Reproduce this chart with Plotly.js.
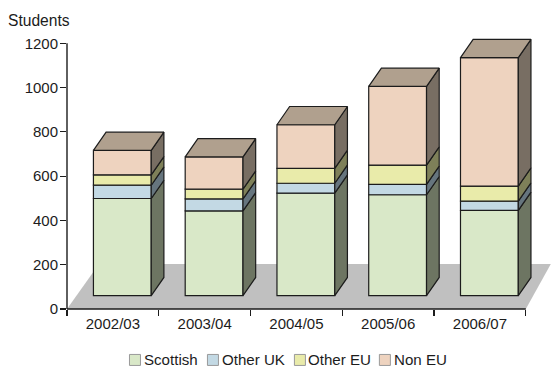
<!DOCTYPE html>
<html>
<head>
<meta charset="utf-8">
<script src="https://cdn.plot.ly/plotly-3.0.1.min.js"></script>
<style>html,body{margin:0;padding:0;background:#fff}#chart{width:551px;height:367px}</style>
</head>
<body>
<div id="chart"></div>
<script>
// Student numbers by domicile, one stacked column per academic year
var years = ['2002/03', '2003/04', '2004/05', '2005/06', '2006/07'];
var seriesNames = ['Scottish', 'Other UK', 'Other EU', 'Non EU'];
var scottish = [439, 383, 463, 456, 385];
var otherUK = [60, 54, 45, 47, 42];
var otherEU = [47, 44, 67, 87, 68];
var nonEU = [110, 146, 197, 355, 580];
var valueTicks = [0, 200, 400, 600, 800, 1000, 1200];

var frontColors = ['#d9e8c8', '#c3d9e4', '#e9ebaa', '#eed3bf'];
var sideColors = ['#6d7562', '#66757e', '#7e8059', '#786e63'];
var topColor = '#b0a08e';
var floorColor = '#c0c0c0';
var inkColor = '#1c1c1c';

// Projection of the depth direction, in axis units
var depthX = 0.138, depthY = 82.5;
var liftX = 0.103, liftY = 60;
var columnWidth = 0.63;

var stacks = [scottish, otherUK, otherEU, nonEU];
var traces = [];
var bases = years.map(function () { return liftY; });

stacks.forEach(function (values, s) {
  var startBase = bases.slice();
  traces.push({
    type: 'bar', name: seriesNames[s], showlegend: false, cliponaxis: false,
    x: years.map(function (_, i) { return i + 0.5 + liftX; }),
    y: values, base: startBase, width: columnWidth,
    marker: {color: frontColors[s], line: {color: inkColor, width: 1.2}}
  });
  // Right-hand face of each segment
  var sx = [], sy = [];
  values.forEach(function (v, i) {
    var r = i + 0.5 + liftX + columnWidth / 2, b = startBase[i], t = b + v;
    sx.push(r, r + depthX, r + depthX, r, r, null);
    sy.push(b, b + depthY, t + depthY, t, b, null);
    bases[i] = t;
  });
  traces.push({
    type: 'scatter', mode: 'lines', showlegend: false, hoverinfo: 'skip',
    x: sx, y: sy, fill: 'toself', fillcolor: sideColors[s],
    line: {color: inkColor, width: 1.2}
  });
});

// Lid of each column
var lidX = [], lidY = [];
bases.forEach(function (t, i) {
  var l = i + 0.5 + liftX - columnWidth / 2, r = l + columnWidth;
  lidX.push(l, r, r + depthX, l + depthX, l, null);
  lidY.push(t, t, t + depthY, t + depthY, t, null);
});
traces.push({
  type: 'scatter', mode: 'lines', showlegend: false, hoverinfo: 'skip',
  x: lidX, y: lidY, fill: 'toself', fillcolor: topColor,
  line: {color: inkColor, width: 1.2}
});

var W = 551, H = 367;
// The plotting box runs past the drawn axes so the tallest and last columns keep their depth faces
var plot = {l: 67, r: 535.18, t: 29.7, b: 309};
var axisEnd = {x: 526, y: 43};
function px(v) { return (v - plot.l) / (plot.r - plot.l); }
function py(v) { return (plot.b - v) / (plot.b - plot.t); }

// Floor parallelogram, behind the columns
var floorPath = 'M' + px(67) + ',' + py(309) + 'L' + px(526) + ',' + py(309) +
  'L' + px(551) + ',' + py(264) + 'L' + px(99) + ',' + py(264) + 'Z';

var shapes = [
  {type: 'path', layer: 'below', xref: 'paper', yref: 'paper', path: floorPath,
    fillcolor: floorColor, line: {width: 0}},
  {type: 'line', xref: 'paper', yref: 'paper', x0: 0, x1: 0, y0: py(309), y1: py(axisEnd.y),
    line: {color: inkColor, width: 1.4}},
  {type: 'line', xref: 'paper', yref: 'paper', x0: 0, x1: px(axisEnd.x), y0: 0, y1: 0,
    line: {color: inkColor, width: 1.4}}
];

// Key below the plot
var keySwatchX = [129.5, 207.5, 294.5, 379.5];
var keyTextX = [142, 220, 306.5, 392];
var keyY = 360;
var annotations = [{
  xref: 'paper', yref: 'paper', x: px(6), y: py(20), xanchor: 'left', yanchor: 'middle',
  text: 'Students', showarrow: false, font: {size: 15.6, color: inkColor}
}];
seriesNames.forEach(function (name, s) {
  shapes.push({type: 'rect', xref: 'paper', yref: 'paper',
    x0: px(keySwatchX[s]), x1: px(keySwatchX[s] + 11),
    y0: py(keyY + 5.5), y1: py(keyY - 5.5),
    fillcolor: frontColors[s], line: {color: '#999999', width: 1}});
  annotations.push({xref: 'paper', yref: 'paper', x: px(keyTextX[s]), y: py(keyY - 0.5),
    xanchor: 'left', yanchor: 'middle', text: name, showarrow: false,
    font: {size: 15.1, color: inkColor}});
});

var layout = {
  width: W, height: H, showlegend: false, barmode: 'overlay',
  margin: {l: plot.l, r: W - plot.r, t: plot.t, b: H - plot.b, pad: 0},
  paper_bgcolor: '#fff', plot_bgcolor: 'rgba(0,0,0,0)',
  font: {family: '"Liberation Sans", Arial, sans-serif', size: 15, color: inkColor},
  xaxis: {
    range: [0, 5.1], tickmode: 'array', tickvals: [0.5, 1.5, 2.5, 3.5, 4.5], ticktext: years,
    ticks: '', showgrid: false, zeroline: false, showline: false,
    minor: {tickmode: 'array', tickvals: [0, 1, 2, 3, 4, 5], ticks: 'outside', ticklen: 6,
      tickwidth: 1.2, tickcolor: inkColor, showgrid: false},
    ticklabelstandoff: 4
  },
  yaxis: {
    range: [0, 1260], tickmode: 'array', tickvals: valueTicks, ticks: 'outside', ticklen: 6,
    tickwidth: 1.2, tickcolor: inkColor, showgrid: false, zeroline: false,
    showline: false, ticklabelstandoff: -1
  },
  shapes: shapes, annotations: annotations
};

Plotly.newPlot('chart', traces, layout, {displayModeBar: false, staticPlot: true});
</script>
</body>
</html>
